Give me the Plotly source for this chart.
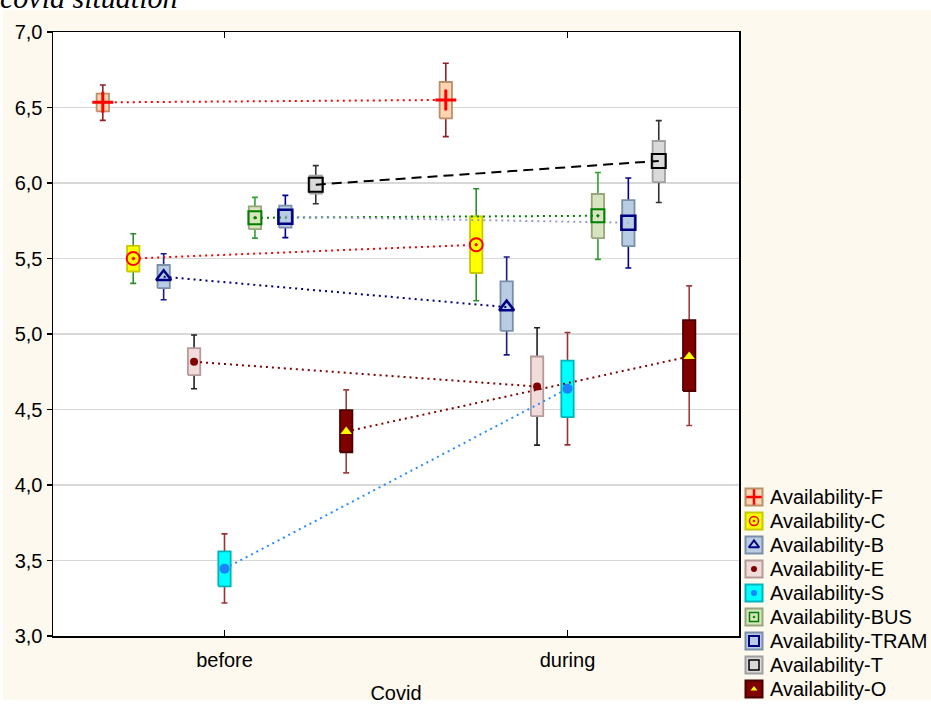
import plotly.graph_objects as go

# ---------------- data ----------------
groups = ["before", "during"]
series = ["Availability-F", "Availability-C", "Availability-B", "Availability-E",
          "Availability-S", "Availability-BUS", "Availability-TRAM", "Availability-T",
          "Availability-O"]

y_ticks = [3.0, 3.5, 4.0, 4.5, 5.0, 5.5, 6.0, 6.5, 7.0]
y_tick_labels = ["3,0", "3,5", "4,0", "4,5", "5,0", "5,5", "6,0", "6,5", "7,0"]

mean_before = [6.534, 5.500, 5.379, 4.816, 3.446, 5.770, 5.777, 5.989, 4.354]
mean_during = [6.550, 5.591, 5.178, 4.652, 4.637, 5.783, 5.737, 6.146, 4.851]

box_lo_before = [6.474, 5.414, 5.304, 4.728, 3.329, 5.694, 5.704, 5.929, 4.217]
box_hi_before = [6.592, 5.584, 5.457, 4.907, 3.561, 5.845, 5.850, 6.048, 4.496]
whisk_lo_before = [6.415, 5.335, 5.227, 4.637, 3.219, 5.635, 5.638, 5.863, 4.080]
whisk_hi_before = [6.649, 5.664, 5.531, 4.993, 3.676, 5.905, 5.918, 6.115, 4.630]

box_lo_during = [6.428, 5.404, 5.021, 4.456, 4.449, 5.635, 5.582, 6.006, 4.622]
box_hi_during = [6.669, 5.779, 5.348, 4.851, 4.824, 5.927, 5.887, 6.278, 5.092]
whisk_lo_during = [6.307, 5.220, 4.862, 4.264, 4.266, 5.494, 5.437, 5.871, 4.394]
whisk_hi_during = [6.793, 5.962, 5.510, 5.041, 5.010, 6.070, 6.033, 6.413, 5.319]

# ---------------- styles ----------------
box_fill = ["#ffd4b0", "#ffff00", "#b8cce4", "#f2dcdb", "#00ffff",
            "#d7e4bd", "#b8cce4", "#d9d9d9", "#800000"]
box_line = ["#b8906c", "#c8c800", "#7b8fa8", "#b49a9a", "#00b4bc",
            "#98a57e", "#7b8fa8", "#a0a0a0", "#4a0000"]
whisk_col = ["#8b2323", "#2e8b2e", "#1a1a8c", "#202020", "#993333",
             "#33a033", "#00008b", "#333333", "#a04040"]
line_col = ["#ff0000", "#ff0000", "#000080", "#800000", "#2a8cff",
            "#008000", "#9a9ad0", "#000000", "#800000"]
line_dash = ["2px,4px"] * 7 + ["10px,6px", "2px,4px"]
mk_symbol = ["cross-thin-open", "circle-open-dot", "triangle-up-open", "circle",
             "circle", "square-open-dot", "square-open", "square-open", "triangle-up"]
mk_color = ["#ff0000", "#ff0000", "#000080", "#800000", "#1a84ff",
            "#008000", "#000080", "#000000", "#ffff00"]
mk_size = [15, 13, 13, 8, 10, 13, 14, 14, 10]
mk_lw = [3, 2, 2.5, 0, 0, 2, 2.5, 2, 0]

FONT = "Liberation Sans, Arial, sans-serif"
FS = 20
step = 0.0887
half_w = 0.018

W, H = 931, 704
ML, MR, MT, MB = 53, 0, 32, 0
PW = W - ML - MR
PH = H - MT - MB


def px_x(p):
    return (p - ML) / PW


def px_y(p):
    return (H - MB - p) / PH


main_x_dom = [0, px_x(739)]
main_y_dom = [px_y(636), 1]

fig = go.Figure()

n = len(series)
xs_all = []
for k in range(n):
    xs_all.append([g + (k - 4) * step for g in range(len(groups))])

means = [[mean_before[k], mean_during[k]] for k in range(n)]
blo = [[box_lo_before[k], box_lo_during[k]] for k in range(n)]
bhi = [[box_hi_before[k], box_hi_during[k]] for k in range(n)]
wlo = [[whisk_lo_before[k], whisk_lo_during[k]] for k in range(n)]
whi = [[whisk_hi_before[k], whisk_hi_during[k]] for k in range(n)]

# whiskers
for k in range(n):
    fig.add_trace(go.Scatter(
        x=xs_all[k], y=means[k], mode="markers",
        marker=dict(size=1, color="rgba(0,0,0,0)"),
        error_y=dict(type="data", symmetric=False,
                     array=[whi[k][i] - means[k][i] for i in range(2)],
                     arrayminus=[means[k][i] - wlo[k][i] for i in range(2)],
                     color=whisk_col[k], thickness=1.6, width=3),
        showlegend=False, hoverinfo="skip"))

# boxes
for k in range(n):
    bx, by = [], []
    for i in range(2):
        c = xs_all[k][i]
        bx += [c - half_w, c + half_w, c + half_w, c - half_w, c - half_w, None]
        by += [blo[k][i], blo[k][i], bhi[k][i], bhi[k][i], blo[k][i], None]
    fig.add_trace(go.Scatter(
        x=bx, y=by, mode="lines", fill="toself", fillcolor=box_fill[k],
        line=dict(color=box_line[k], width=1.8), showlegend=False, hoverinfo="skip"))

# connecting lines
for k in range(n):
    fig.add_trace(go.Scatter(
        x=xs_all[k], y=means[k], mode="lines",
        line=dict(color=line_col[k], width=2, dash=line_dash[k]),
        showlegend=False, hoverinfo="skip"))

# mean markers
for k in range(n):
    fig.add_trace(go.Scatter(
        x=xs_all[k], y=means[k], mode="markers",
        marker=dict(symbol=mk_symbol[k], size=mk_size[k], color=mk_color[k],
                    line=dict(color=mk_color[k], width=mk_lw[k])),
        name=series[k], showlegend=False))

# ---------------- legend (drawn in its own small axes) ----------------
icon_cx = 754
row0, row_gap = 497, 24
leg_x_dom = [px_x(742), 1]
leg_y_dom = [0, px_y(468)]
leg_idx = list(range(n))
fig.add_trace(go.Scatter(
    x=[0] * n, y=leg_idx, xaxis="x2", yaxis="y2", mode="markers",
    marker=dict(symbol="square", size=17, color=box_fill,
                line=dict(color=box_line, width=2)),
    showlegend=False, hoverinfo="skip"))
for k in range(n):
    fig.add_trace(go.Scatter(
        x=[0], y=[leg_idx[k]], xaxis="x2", yaxis="y2", mode="markers",
        marker=dict(symbol=mk_symbol[k], size=max(6, mk_size[k] - 4), color=mk_color[k],
                    line=dict(color=mk_color[k], width=max(0, mk_lw[k] - 0.5))),
        showlegend=False, hoverinfo="skip"))

annotations = []
for k in range(n):
    annotations.append(dict(x=14, y=leg_idx[k], xref="x2", yref="y2", text=series[k],
                            showarrow=False, xanchor="left", yanchor="middle",
                            font=dict(family=FONT, size=FS, color="black")))

annotations.append(dict(x=px_x(-2), y=px_y(-2), xref="paper", yref="paper",
                        text="<i>covid situation</i>", showarrow=False,
                        xanchor="left", yanchor="middle",
                        font=dict(family="Liberation Serif, Times New Roman, serif",
                                  size=30, color="black")))

shapes = [
    dict(type="rect", xref="paper", yref="paper", x0=px_x(3), x1=1,
         y0=px_y(700), y1=px_y(10), fillcolor="#fdf9ee", line=dict(width=0),
         layer="below"),
    dict(type="rect", xref="x domain", yref="y domain", x0=0, x1=1, y0=0, y1=1,
         fillcolor="white", line=dict(width=0), layer="below"),
]

fig.update_layout(
    width=W, height=H,
    margin=dict(l=ML, r=MR, t=MT, b=MB, pad=0, autoexpand=False),
    paper_bgcolor="white", plot_bgcolor="white",
    showlegend=False,
    font=dict(family=FONT, size=FS, color="black"),
    xaxis=dict(domain=main_x_dom, anchor="y", range=[-0.5, 1.5], automargin=False,
               tickvals=list(range(len(groups))), ticktext=groups,
               ticks="inside", ticklen=6, tickwidth=1.2, tickcolor="black",
               showline=True, linecolor="black", linewidth=1.5, mirror="ticks",
               showgrid=False, zeroline=False, ticklabelstandoff=5,
               title=dict(text="Covid", standoff=16, font=dict(size=FS)),
               tickfont=dict(size=FS)),
    yaxis=dict(domain=main_y_dom, anchor="x", range=[3, 7], automargin=False,
               tickvals=y_ticks, ticktext=y_tick_labels,
               ticks="outside", ticklen=5, tickwidth=1.2, tickcolor="black",
               showline=True, linecolor="black", linewidth=1.5, mirror=True,
               showgrid=True, gridcolor="#d8d8d8", gridwidth=1.5, zeroline=False,
               tickfont=dict(size=FS)),
    xaxis2=dict(domain=leg_x_dom, anchor="y2", visible=False, automargin=False,
                range=[742 - icon_cx, W - icon_cx]),
    yaxis2=dict(domain=leg_y_dom, anchor="x2", visible=False, automargin=False,
                range=[(H - row0) / row_gap, (468 - row0) / row_gap]),
    annotations=annotations,
    shapes=shapes,
)

fig.write_html("out.html",
               config={"displayModeBar": False, "staticPlot": True},
               post_script="document.documentElement.style.margin='0';"
                           "document.documentElement.style.overflow='hidden';"
                           "document.body.style.margin='0';"
                           "document.body.style.padding='0';"
                           "document.body.style.overflow='hidden';")
